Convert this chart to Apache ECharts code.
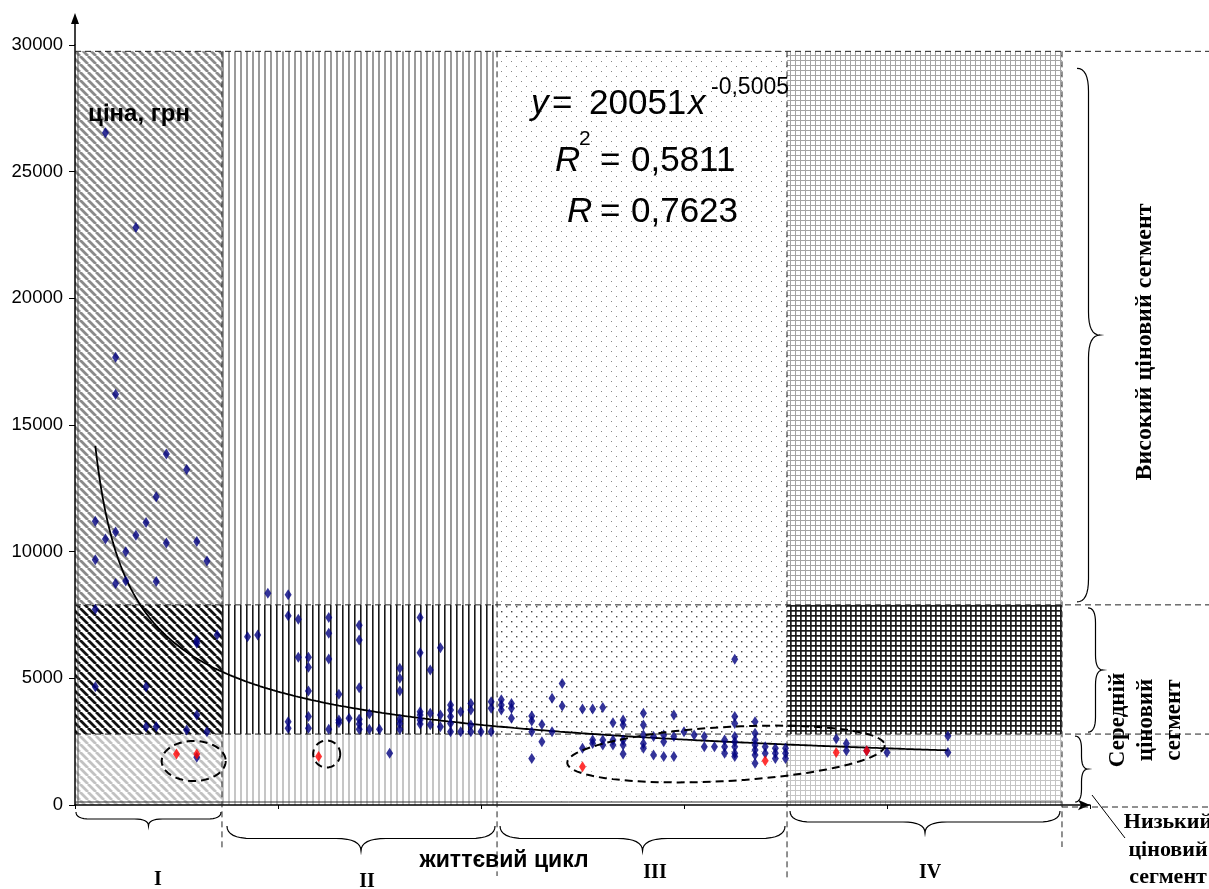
<!DOCTYPE html>
<html><head><meta charset="utf-8">
<script src="https://cdn.jsdelivr.net/npm/echarts@6/dist/echarts.min.js"></script>
<style>html,body{margin:0;padding:0;background:#fff}#c{width:1209px;height:889px}</style>
</head><body><div id="c"></div>
<script>
// ---------------- DATA ----------------
const yTicks = [0, 5000, 10000, 15000, 20000, 25000, 30000];
const lifeCycleStages = ['I', 'II', 'III', 'IV'];
const stageBounds = [0, 14.48, 41.58, 70.15, 97.24];
const segmentBounds = [0, 2800, 7900, 29750];
const stageIPoints = [
  [2,11200],[2,9680],[2,7730],[2,4670],[3,26540],[3,10500],[4,17670],[4,16210],[4,10780],[4,8740],
  [5,10000],[5,8840],[6,22800],[6,10650],[7,11150],[7,4670],[7,3090],[8,12170],[8,8820],[8,3090],
  [9,13860],[9,10340],[11,13240],[11,2960],[12,10400],[12,6490],[12,6380],[12,3550],[12,1880],
  [13,9630],[13,2890],[14,6710]
];
const stageIIPoints = [
  [17,6640],[18,6710],[19,8360],[21,8300],[21,7470],[21,3290],[21,3030],[22,7330],[22,5830],
  [23,5830],[23,5440],[23,4500],[23,3490],[23,3030],[25,7400],[25,6780],[25,5760],[25,2990],
  [26,4370],[26,3360],[26,3250],[27,3420],[28,7100],[28,6510],[28,4630],[28,3380],[28,3200],[28,2990],
  [29,3590],[29,2990],[30,2990],[31,2040],[32,5400],[32,5000],[32,4500],[32,3380],[32,3220],[32,2990],
  [34,7400],[34,6010],[34,3680],[34,3550],[34,3360],[34,3200],[35,5330],[35,3620],[35,3170],
  [36,6210],[36,3550],[36,3090],[37,3950],[37,3750],[37,3490],[37,3220],[37,2890],[38,3680],[38,2890],
  [39,4010],[39,3750],[39,3160],[39,2890],[40,2890],[41,4080],[41,3820],[41,2890]
];
const stageIIIPoints = [
  [42,4150],[42,3950],[42,3750],[43,4010],[43,3820],[43,3420],[45,3510],[45,3320],[45,2890],[45,1840],
  [46,3180],[46,2500],[47,4210],[47,2890],[48,4800],[48,3910],[50,3790],[50,2240],[51,3790],[51,2570],[51,2430],
  [52,3850],[52,2570],[52,2370],[53,3250],[53,2570],[53,2370],[54,3360],[54,3160],[54,2570],[54,2370],[54,2010],
  [56,3620],[56,3160],[56,2760],[56,2430],[56,2240],[57,2700],[57,1970],[58,2760],[58,2500],[58,1910],
  [59,3550],[59,2700],[59,1910],[60,2890],[61,2760],[62,2700],[62,2300],[63,2300],[64,2570],[64,2300],[64,2040],
  [65,5750],[65,3490],[65,3220],[65,2700],[65,2500],[65,2300],[65,2040],[65,1910],
  [67,3290],[67,2830],[67,2570],[67,2370],[67,2170],[67,1970],[67,1650],[68,2300],[68,2040],
  [69,2240],[69,2040],[69,1840],[70,2240],[70,2040],[70,1840]
];
const stageIVPoints = [[75,2620],[76,2430],[76,2140],[78,2140],[80,2070],[86,2720],[86,2070]];
const redPoints = [[10,2010],[12,2010],[24,1910],[50,1510],[68,1750],[75,2070],[78,2140]];
// trendline as printed on the chart: y = 20051 x^-0.5005 over the data range
const trendCoef = 20051, trendExp = -0.5005, trendRange = [2, 86];
const eqText = { y: 'y', eq: '= 20051', x: 'x', exp: '-0,5005', r2: '= 0,5811', r: '= 0,7623' };

// ---------------- PATTERNS ----------------
function tile(w, h, draw) {
  const c = document.createElement('canvas'); c.width = w; c.height = h;
  const g = c.getContext('2d'); g.fillStyle = '#fff'; g.fillRect(0, 0, w, h); draw(g); return c;
}
function diag(color, p, lw) {
  return tile(p, p, g => { g.strokeStyle = color; g.lineWidth = lw; g.beginPath();
    for (let k = -1; k <= 1; k++) { g.moveTo(k * p, 0); g.lineTo(k * p + p, p); } g.stroke(); });
}
function vert(color, p, lw) { return tile(p, 4, g => { g.fillStyle = color; g.fillRect(0, 0, lw, 4); }); }
function dots(color, p, s) {
  return tile(p, p, g => { g.fillStyle = color; g.fillRect(1, 1, s, s); g.fillRect(p / 2 + 1, p / 2 + 1, s, s); });
}
function grid(color, p, lw) {
  return tile(p, p, g => { g.fillStyle = color; g.fillRect(0, 0, p, lw); g.fillRect(0, 0, lw, p); });
}
const patterns = [
  [diag('#c2c2c2', 8, 2.8), vert('#c6c6c6', 6, 2), dots('#b4b4b4', 10, 1), grid('#c4c4c4', 5, 1)],
  [diag('#111', 8, 2.8), vert('#1a1a1a', 6, 1.6), dots('#444', 10, 1.4), grid('#1a1a1a', 5, 1.7)],
  [diag('#8a8a8a', 8, 2.8), vert('#9a9a9a', 6, 2), dots('#888', 10, 1), grid('#a4a4a4', 5, 1)]
];
const zoneCells = [];
for (let r = 0; r < 3; r++) for (let c = 0; c < 4; c++) zoneCells.push([c, r]);

const trendData = [];
for (let x = trendRange[0]; x <= trendRange[1] + 1e-9; x += 0.25) trendData.push([x, trendCoef * Math.pow(x, trendExp)]);

const sans = "'Liberation Sans', Arial, sans-serif";
const serif = "'Liberation Serif', 'Times New Roman', serif";

const chart = echarts.init(document.getElementById('c'), null, { renderer: 'canvas' });
chart.setOption({
  animation: false,
  grid: { left: 75, right: 119, top: 45, bottom: 84 },
  xAxis: { type: 'value', min: 0, max: 100, interval: 20,
    axisLine: { show: true, lineStyle: { color: '#000', width: 1.5 }, symbol: ['none', 'arrow'], symbolSize: [8, 12] },
    axisTick: { show: true, length: 4, lineStyle: { color: '#000' } },
    axisLabel: { show: false }, splitLine: { show: false } },
  yAxis: { type: 'value', min: 0, max: 30000, interval: 5000,
    axisLine: { show: true, lineStyle: { color: '#000', width: 1.5 } },
    axisTick: { show: true, length: 6, lineStyle: { color: '#000' } },
    axisLabel: { margin: 12, color: '#000', fontFamily: sans, fontSize: 18.5, formatter: v => String(v) },
    splitLine: { show: false } },
  series: [
    { type: 'custom', z: 0, silent: true, data: zoneCells,
      renderItem: function (params, api) {
        const c = api.value(0), r = api.value(1);
        const p1 = api.coord([stageBounds[c], segmentBounds[r + 1]]);
        const p2 = api.coord([stageBounds[c + 1], segmentBounds[r]]);
        return { type: 'rect', shape: { x: p1[0], y: p1[1], width: p2[0] - p1[0], height: p2[1] - p1[1] },
          style: { fill: { image: patterns[r][c], repeat: 'repeat' } } };
      } },
    { type: 'line', z: 3, data: trendData, showSymbol: false, symbol: 'none', smooth: false,
      lineStyle: { color: '#000', width: 1.8 } },
    { type: 'scatter', z: 4, symbol: 'diamond', symbolSize: [7, 11], itemStyle: { color: '#000080' },
      data: [].concat(stageIPoints, stageIIPoints, stageIIIPoints, stageIVPoints) },
    { type: 'scatter', z: 5, symbol: 'diamond', symbolSize: [7, 11], itemStyle: { color: '#ff0000' }, data: redPoints }
  ]
});

// ---------------- ANNOTATIONS ----------------
const P = (x, y) => chart.convertToPixel({ gridIndex: 0 }, [x, y]);
const els = [];
const dash = { stroke: '#222', lineWidth: 1, lineDash: [6, 4] };
function line(x1, y1, x2, y2, style, z) { els.push({ type: 'line', z: z || 1, silent: true, shape: { x1, y1, x2, y2 }, style: Object.assign({ fill: null }, style) }); }
function txt(x, y, text, font, extra) {
  els.push(Object.assign({ type: 'text', z: 10, silent: true, x, y,
    style: { text, font, fill: '#000', align: 'center', verticalAlign: 'middle', textAlign: 'center', textVerticalAlign: 'middle' } }, extra || {}));
}
function quad(a, c, b, n, out) { for (let i = 1; i <= n; i++) { const t = i / n, u = 1 - t;
  out.push([u * u * a[0] + 2 * u * t * c[0] + t * t * b[0], u * u * a[1] + 2 * u * t * c[1] + t * t * b[1]]); } }
function braceDown(x1, x2, y0, d) {
  const xm = (x1 + x2) / 2, ym = y0 + d / 2, r = Math.min(d, (x2 - x1) / 5), pts = [[x1, y0]];
  quad([x1, y0], [x1, ym], [x1 + r, ym], 8, pts); pts.push([xm - r, ym]);
  quad([xm - r, ym], [xm, ym], [xm, y0 + d], 8, pts);
  quad([xm, y0 + d], [xm, ym], [xm + r, ym], 8, pts); pts.push([x2 - r, ym]);
  quad([x2 - r, ym], [x2, ym], [x2, y0], 8, pts);
  els.push({ type: 'polyline', z: 2, silent: true, shape: { points: pts }, style: { stroke: '#000', lineWidth: 1.2, fill: null } });
}
function braceRight(y1, y2, x0, d) {
  const ym = (y1 + y2) / 2, xm = x0 + d / 2, r = Math.min(d, (y2 - y1) / 5), pts = [[x0, y1]];
  quad([x0, y1], [xm, y1], [xm, y1 + r], 8, pts); pts.push([xm, ym - r]);
  quad([xm, ym - r], [xm, ym], [x0 + d, ym], 8, pts);
  quad([x0 + d, ym], [xm, ym], [xm, ym + r], 8, pts); pts.push([xm, y2 - r]);
  quad([xm, y2 - r], [xm, y2], [x0, y2], 8, pts);
  els.push({ type: 'polyline', z: 2, silent: true, shape: { points: pts }, style: { stroke: '#000', lineWidth: 1.2, fill: null } });
}
function ellipse(cx, cy, rx, ry, ang) {
  const pts = [], n = 90;
  for (let i = 0; i < n; i++) { const t = 2 * Math.PI * i / n, ex = rx * Math.cos(t), ey = ry * Math.sin(t);
    pts.push([cx + ex * Math.cos(ang) + ey * Math.sin(ang), cy - ex * Math.sin(ang) + ey * Math.cos(ang)]); }
  els.push({ type: 'polygon', z: 6, silent: true, shape: { points: pts }, style: { stroke: '#000', lineWidth: 2, lineDash: [8, 5], fill: null } });
}

const left = P(0, 0)[0], base = P(0, 0)[1];
// horizontal segment boundaries
segmentBounds.slice(1).forEach(v => { const yy = P(0, v)[1]; line(left, yy, 1209, yy, dash); });
line(P(stageBounds[4], 0)[0], base + 2, 1209, base + 2, dash);
// double axis lines (plot-area edge)
line(left, base - 3, P(stageBounds[4], 0)[0], base - 3, { stroke: '#333', lineWidth: 1 }, 2);
line(left + 3, base, left + 3, P(0, segmentBounds[3])[1], { stroke: '#555', lineWidth: 1 }, 2);
// vertical stage boundaries
const topY = P(0, segmentBounds[3])[1];
const vEnds = [848, 876, 880, 847];
stageBounds.slice(1).forEach((s, i) => { const xx = P(s, 0)[0]; line(xx, topY, xx, vEnds[i], dash); });
// y-axis arrow extension
line(left, P(0, 30000)[1], left, 22, { stroke: '#000', lineWidth: 1.5 });
els.push({ type: 'polygon', z: 2, silent: true, shape: { points: [[left - 4, 24], [left, 13], [left + 4, 24]] }, style: { fill: '#000' } });
// braces under stages
const sx = stageBounds.map(s => P(s, 0)[0]);
braceDown(sx[0] + 1, sx[1] - 1, 812, 14);
braceDown(sx[1] + 5, sx[2] - 2, 826, 25);
braceDown(sx[2] + 3, sx[3] - 2, 826, 25);
braceDown(sx[3] + 3, sx[4] - 2, 811, 22);
// braces for price segments
braceRight(P(0, segmentBounds[3])[1] + 17, P(0, segmentBounds[2])[1] - 3, 1077, 23);
braceRight(P(0, segmentBounds[2])[1] + 3, P(0, segmentBounds[1])[1] - 2, 1088, 15);
braceRight(P(0, segmentBounds[1])[1] + 2, base - 3, 1075, 13);
line(1092, 795, 1125, 838, { stroke: '#000', lineWidth: 1 }, 2);
// ellipses around highlighted points
ellipse(193.7, 761, 32, 20, 0);
ellipse(326.7, 754, 13.5, 13.5, 0);
ellipse(726, 754, 159, 27, 0.056);

// texts
txt(139, 114, 'ціна, грн', 'bold 24px ' + sans);
txt(504, 861, 'життєвий цикл', 'bold 23px ' + sans);
const romanPos = [[158, 880], [367, 882], [655, 873], [930, 873]];
lifeCycleStages.forEach((s, i) => txt(romanPos[i][0], romanPos[i][1], s, 'bold 20px ' + serif));
txt(1145, 342, 'Високий ціновий сегмент', 'bold 24px ' + serif, { rotation: Math.PI / 2 });
txt(1118, 720, 'Середній', 'bold 23px ' + serif, { rotation: Math.PI / 2 });
txt(1146, 720, 'ціновий', 'bold 23px ' + serif, { rotation: Math.PI / 2 });
txt(1174, 720, 'сегмент', 'bold 23px ' + serif, { rotation: Math.PI / 2 });
txt(1168, 822, 'Низький', 'bold 22px ' + serif);
txt(1168, 850, 'ціновий', 'bold 22px ' + serif);
txt(1168, 877, 'сегмент', 'bold 22px ' + serif);
function ltxt(x, y, text, font) { txt(x, y, text, font, {}); els[els.length - 1].style.align = 'left'; els[els.length - 1].style.textAlign = 'left'; }
ltxt(531, 104, eqText.y, 'italic 35px ' + sans);
ltxt(552, 104, eqText.eq.slice(0, 1), '35px ' + sans);
ltxt(589, 104, eqText.eq.slice(2), '35px ' + sans);
ltxt(688, 104, eqText.x, 'italic 35px ' + sans);
ltxt(711, 88, eqText.exp, '23px ' + sans);
ltxt(555, 161, 'R', 'italic 35px ' + sans);
ltxt(579, 139, '2', '21px ' + sans);
ltxt(600, 161, eqText.r2.slice(0, 1), '35px ' + sans);
ltxt(631, 161, eqText.r2.slice(2), '35px ' + sans);
ltxt(567, 212, 'R', 'italic 35px ' + sans);
ltxt(600, 212, eqText.r.slice(0, 1), '35px ' + sans);
ltxt(631, 212, eqText.r.slice(2), '35px ' + sans);

chart.setOption({ graphic: { elements: els } });
</script></body></html>
